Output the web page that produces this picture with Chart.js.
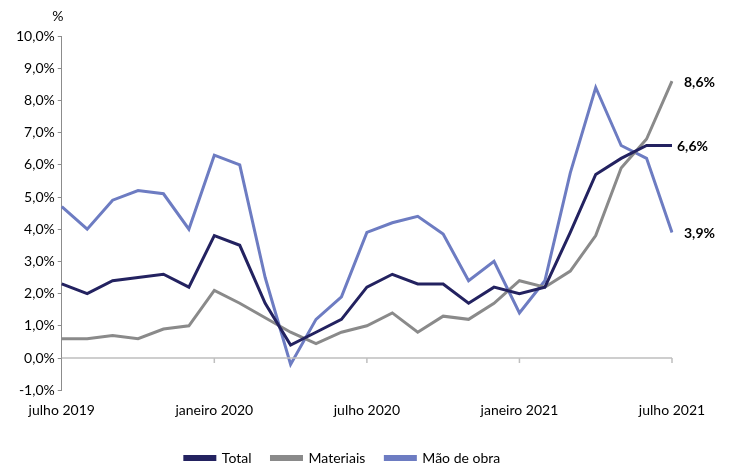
<!DOCTYPE html>
<html>
<head>
<meta charset="utf-8">
<script src="https://cdn.jsdelivr.net/npm/chart.js@4/dist/chart.umd.min.js"></script>
<style>
  html, body { margin: 0; padding: 0; background: #fff; }
  #wrap { width: 730px; height: 463px; }
</style>
</head>
<body>
<div id="wrap"><canvas id="costChart" width="730" height="463"></canvas></div>
<script>
// months jul/2019 .. jul/2021
const months = [
  'jul 2019', 'ago 2019', 'set 2019', 'out 2019', 'nov 2019', 'dez 2019',
  'jan 2020', 'fev 2020', 'mar 2020', 'abr 2020', 'mai 2020', 'jun 2020',
  'jul 2020', 'ago 2020', 'set 2020', 'out 2020', 'nov 2020', 'dez 2020',
  'jan 2021', 'fev 2021', 'mar 2021', 'abr 2021', 'mai 2021', 'jun 2021',
  'jul 2021'
];
const axisLabels = ['julho 2019', 'janeiro 2020', 'julho 2020', 'janeiro 2021', 'julho 2021'];

const total =     [2.3, 2.0, 2.4, 2.5, 2.6, 2.2, 3.8, 3.5, 1.7, 0.4, 0.8, 1.2, 2.2, 2.6, 2.3, 2.3, 1.7, 2.2, 2.0, 2.2, 3.9, 5.7, 6.2, 6.6, 6.6];
const materiais = [0.6, 0.6, 0.7, 0.6, 0.9, 1.0, 2.1, 1.7, 1.25, 0.8, 0.45, 0.8, 1.0, 1.4, 0.8, 1.3, 1.2, 1.7, 2.4, 2.2, 2.7, 3.8, 5.9, 6.8, 8.6];
const maoDeObra = [4.7, 4.0, 4.9, 5.2, 5.1, 4.0, 6.3, 6.0, 2.5, -0.2, 1.2, 1.9, 3.9, 4.2, 4.4, 3.85, 2.4, 3.0, 1.4, 2.4, 5.75, 8.4, 6.6, 6.2, 3.9];

const fmt = v => v.toFixed(1).replace('.', ',') + '%';
const FONT = 'Lato, "Open Sans", sans-serif';

// zero line + half-year tick marks, "%" unit and the end labels
const extrasPlugin = {
  id: 'extras',
  afterDatasetsDraw(chart) {
    const { ctx, chartArea: { left, right, top }, scales: { x, y } } = chart;
    const y0 = y.getPixelForValue(0);

    ctx.save();
    ctx.strokeStyle = '#bfbfbf';
    ctx.lineWidth = 1.5;
    ctx.beginPath();
    ctx.moveTo(left, y0);
    ctx.lineTo(right, y0);
    for (let i = 6; i < months.length; i += 6) {
      const px = x.getPixelForValue(i);
      ctx.moveTo(px, y0);
      ctx.lineTo(px, y0 + 5);
    }
    ctx.stroke();

    ctx.fillStyle = '#000';
    ctx.font = '14px ' + FONT;
    ctx.textAlign = 'center';
    ctx.textBaseline = 'middle';
    ctx.fillText('%', left - 4, top - 20);

    ctx.font = 'bold 14px ' + FONT;
    ctx.textAlign = 'left';
    chart.data.datasets.forEach((ds, di) => {
      const meta = chart.getDatasetMeta(di);
      const last = meta.data[meta.data.length - 1];
      ctx.fillText(fmt(ds.data[ds.data.length - 1]), last.x + ds.endGap, last.y + 1);
    });
    ctx.restore();
  }
};

const ctx = document.getElementById('costChart').getContext('2d');

new Chart(ctx, {
  type: 'line',
  data: {
    labels: months,
    datasets: [
      { label: 'Total', data: total, borderColor: '#232260', backgroundColor: '#232260', endGap: 5 },
      { label: 'Materiais', data: materiais, borderColor: '#8a8a8a', backgroundColor: '#8a8a8a', endGap: 12 },
      { label: 'Mão de obra', data: maoDeObra, borderColor: '#6d7cc2', backgroundColor: '#6d7cc2', endGap: 12 }
    ]
  },
  options: {
    responsive: false,
    animation: false,
    devicePixelRatio: 1,
    elements: {
      line: { borderWidth: 3, tension: 0 },
      point: { radius: 0 }
    },
    layout: { padding: { top: 36, right: 58, left: 13, bottom: -12 } },
    scales: {
      x: {
        grid: { display: false, drawTicks: false },
        border: { display: false },
        ticks: {
          autoSkip: false,
          maxRotation: 0,
          minRotation: 0,
          padding: 12,
          color: '#000',
          font: { family: FONT, size: 14 },
          callback: (val, i) => i % 6 === 0 ? axisLabels[i / 6] : ''
        }
      },
      y: {
        min: -1,
        max: 10,
        ticks: {
          stepSize: 1,
          padding: 3,
          color: '#000',
          font: { family: FONT, size: 14 },
          callback: v => fmt(v)
        },
        grid: { drawOnChartArea: false, drawTicks: true, tickLength: 4, color: '#8c8c8c' },
        border: { display: true, color: '#8c8c8c', width: 1 }
      }
    },
    plugins: {
      legend: {
        position: 'bottom',
        labels: {
          boxWidth: 30,
          boxHeight: 3,
          padding: 20,
          color: '#000',
          font: { family: FONT, size: 14 }
        }
      },
      tooltip: { enabled: false }
    }
  },
  plugins: [extrasPlugin]
});
</script>
</body>
</html>
